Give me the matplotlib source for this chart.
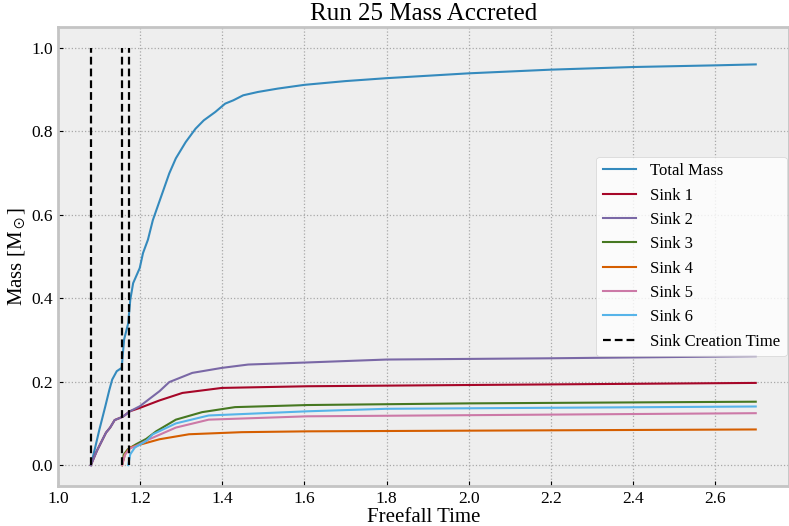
import matplotlib
matplotlib.use("Agg")
import matplotlib.pyplot as plt

plt.style.use("bmh")
plt.rcParams["font.family"] = ["Liberation Serif", "DejaVu Serif"]
plt.rcParams["mathtext.fontset"] = "stix"
plt.rcParams["grid.linestyle"] = ":"
plt.rcParams["grid.linewidth"] = 0.9
plt.rcParams["grid.color"] = "#a8a8a8"
plt.rcParams["axes.linewidth"] = 2.0
plt.rcParams["axes.edgecolor"] = "#c4c4c4"

# Sink creation times (freefall units)
creation_times = [1.080, 1.155, 1.172]

# Total accreted mass
t_total = [1.080, 1.090, 1.101, 1.115, 1.125, 1.132, 1.143, 1.155, 1.161, 1.171,
           1.176, 1.183, 1.199, 1.207, 1.219, 1.231, 1.251, 1.271, 1.287, 1.311,
           1.335, 1.355, 1.383, 1.407, 1.427, 1.451, 1.487, 1.535, 1.600, 1.700,
           1.800, 2.000, 2.200, 2.400, 2.600, 2.699]
m_total = [0.000, 0.040, 0.086, 0.140, 0.180, 0.205, 0.225, 0.233, 0.301, 0.340,
           0.396, 0.436, 0.472, 0.508, 0.540, 0.587, 0.643, 0.699, 0.735, 0.774,
           0.806, 0.826, 0.846, 0.866, 0.874, 0.886, 0.894, 0.902, 0.911, 0.920,
           0.927, 0.9386, 0.9474, 0.9537, 0.9577, 0.960]

# Sink 1
t_sink1 = [1.080, 1.095, 1.117, 1.127, 1.138, 1.158, 1.175, 1.199, 1.247, 1.303,
           1.399, 1.607, 2.000, 2.699]
m_sink1 = [0.000, 0.035, 0.078, 0.090, 0.108, 0.116, 0.129, 0.137, 0.155, 0.173,
           0.185, 0.189, 0.192, 0.197]

# Sink 2
t_sink2 = [1.080, 1.095, 1.117, 1.127, 1.138, 1.158, 1.175, 1.199, 1.215, 1.247,
           1.271, 1.327, 1.399, 1.463, 1.607, 1.800, 2.200, 2.699]
m_sink2 = [0.000, 0.035, 0.078, 0.090, 0.108, 0.116, 0.129, 0.141, 0.153, 0.177,
           0.199, 0.221, 0.233, 0.241, 0.246, 0.253, 0.256, 0.261]

# Sink 3
t_sink3 = [1.156, 1.160, 1.170, 1.190, 1.215, 1.239, 1.287, 1.351, 1.431, 1.607,
           2.000, 2.699]
m_sink3 = [0.000, 0.025, 0.038, 0.050, 0.063, 0.081, 0.109, 0.127, 0.139, 0.144,
           0.148, 0.152]

# Sink 4
t_sink4 = [1.156, 1.163, 1.175, 1.203, 1.247, 1.319, 1.447, 1.607, 2.699]
m_sink4 = [0.000, 0.026, 0.042, 0.050, 0.062, 0.074, 0.079, 0.081, 0.0855]

# Sink 5
t_sink5 = [1.156, 1.163, 1.175, 1.190, 1.222, 1.287, 1.367, 1.607, 2.699]
m_sink5 = [0.000, 0.025, 0.040, 0.046, 0.062, 0.090, 0.109, 0.117, 0.1245]

# Sink 6
t_sink6 = [1.171, 1.176, 1.187, 1.215, 1.231, 1.287, 1.367, 1.607, 1.800, 2.699]
m_sink6 = [0.000, 0.026, 0.042, 0.058, 0.074, 0.100, 0.119, 0.129, 0.135, 0.1405]

sinks = [(t_sink1, m_sink1), (t_sink2, m_sink2), (t_sink3, m_sink3),
         (t_sink4, m_sink4), (t_sink5, m_sink5), (t_sink6, m_sink6)]

fig = plt.figure(figsize=(7.89, 5.26), dpi=100)
ax = fig.add_axes([0.073, 0.076, 0.927, 0.873])

ax.plot(t_total, m_total, lw=1.5, label="Total Mass")
for i, (t, m) in enumerate(sinks, start=1):
    ax.plot(t, m, lw=1.5, label=f"Sink {i}")

for j, tc in enumerate(creation_times):
    ax.vlines(tc, 0, 1.0, colors="black", linestyles=(0, (3.5, 1.8)), lw=1.6,
              label="Sink Creation Time" if j == 0 else None)

ax.set_title("Run 25 Mass Accreted", fontsize=18, pad=5)
ax.set_xlabel("Freefall Time", fontsize=15, labelpad=1)
ax.set_ylabel(r"Mass [M$_\odot$]", fontsize=15, labelpad=2)
ax.tick_params(labelsize=12.5)
ax.legend(loc="center right", fontsize=12, facecolor="white", framealpha=0.8,
          borderaxespad=0.15)

fig.savefig("out.png", dpi=100)
